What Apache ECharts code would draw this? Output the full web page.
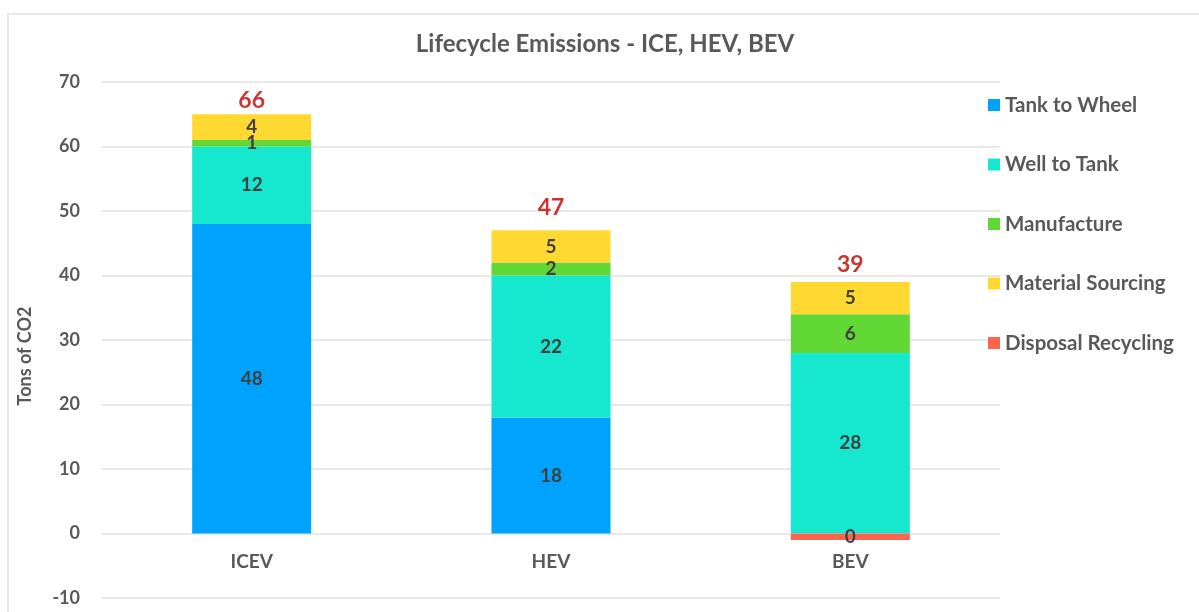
<!DOCTYPE html>
<html>
<head>
<meta charset="utf-8">
<script src="https://cdn.jsdelivr.net/npm/echarts@6/dist/echarts.min.js"></script>
<style>
  html, body { margin: 0; padding: 0; background: #fff; }
  #chart { width: 1199px; height: 612px; }
</style>
</head>
<body>
<div id="chart"></div>
<script>
const categories = ['ICEV', 'HEV', 'BEV']
const tankToWheel = [48, 18, 0]
const wellToTank = [12, 22, 28]
const manufacture = [1, 2, 6]
const materialSourcing = [4, 5, 5]
const disposalRecycling = [0, 0, -1]
const disposalLabels = ['', '', '0']
const totals = [66, 47, 39]
const yTicks = [-10, 0, 10, 20, 30, 40, 50, 60, 70]

const font = 'Lato, "Open Sans", sans-serif'
const grey = '#595959'

const chart = echarts.init(document.getElementById('chart'))

const segLabel = {
  show: true,
  position: 'inside',
  color: '#404040',
  fontFamily: font,
  fontWeight: 'bold',
  fontSize: 19,
  formatter: (p) => (p.value === 0 ? '' : String(p.value))
}

const bar = (name, data, color, label) => ({
  name,
  type: 'bar',
  stack: 'total',
  barWidth: 119,
  data,
  itemStyle: { color },
  label: label || segLabel,
  emphasis: { disabled: true }
})

// little nudges so the red totals sit where the original put them
const totalNudge = [10, -5, 0]

const option = {
  animation: false,
  backgroundColor: '#fff',
  textStyle: { fontFamily: font },
  graphic: [
    {
      type: 'rect',
      shape: { x: 8, y: 14, width: 1400, height: 800 },
      style: { fill: 'none', stroke: '#e6e6e6', lineWidth: 2 },
      silent: true
    }
  ],
  title: {
    text: 'Lifecycle Emissions - ICE, HEV, BEV',
    left: 605,
    textAlign: 'center',
    top: 32,
    padding: 0,
    textStyle: { color: grey, fontFamily: font, fontWeight: 'bold', fontSize: 24 }
  },
  legend: {
    orient: 'vertical',
    left: 983,
    top: 89,
    itemWidth: 12,
    itemHeight: 12,
    itemGap: 37.5,
    icon: 'rect',
    data: ['Tank to Wheel', 'Well to Tank', 'Manufacture', 'Material Sourcing', 'Disposal Recycling'],
    textStyle: { color: grey, fontFamily: font, fontWeight: 'bold', fontSize: 20.5, lineHeight: 22 }
  },
  grid: { left: 102, right: 199, top: 82, bottom: 14, containLabel: false, outerBoundsMode: 'none' },
  xAxis: {
    type: 'category',
    data: categories,
    axisLine: { show: false, onZero: false },
    axisTick: { show: false },
    axisLabel: { color: grey, fontFamily: font, fontWeight: 'bold', fontSize: 19, margin: -46 }
  },
  yAxis: {
    type: 'value',
    min: yTicks[0],
    max: yTicks[yTicks.length - 1],
    interval: 10,
    name: 'Tons of CO2',
    nameLocation: 'middle',
    nameGap: 68,
    nameRotate: 90,
    nameTextStyle: { color: grey, fontFamily: font, fontWeight: 'bold', fontSize: 18, padding: [0, 32, 0, 0] },
    axisLabel: { color: grey, fontFamily: font, fontWeight: 'bold', fontSize: 18, margin: 22 },
    splitLine: { lineStyle: { color: '#e8e8e8', width: 2 } }
  },
  series: [
    bar('Tank to Wheel', tankToWheel, '#00A2FF'),
    bar('Well to Tank', wellToTank, '#16E7CF'),
    bar('Manufacture', manufacture, '#61D836'),
    bar('Material Sourcing', materialSourcing, '#FFD932'),
    bar('Disposal Recycling', disposalRecycling, '#FF644E',
      Object.assign({}, segLabel, { formatter: (p) => disposalLabels[p.dataIndex] })),
    {
      name: 'Total',
      type: 'scatter',
      symbolSize: 0,
      silent: true,
      data: totals.map((v, i) => ({ value: v, label: { offset: [0, totalNudge[i]] } })),
      label: {
        show: true,
        position: 'top',
        distance: 6,
        color: '#C00000',
        fontFamily: font,
        fontWeight: 'bold',
        fontSize: 23,
        formatter: (p) => String(p.value)
      }
    }
  ]
}

chart.setOption(option)
</script>
</body>
</html>
